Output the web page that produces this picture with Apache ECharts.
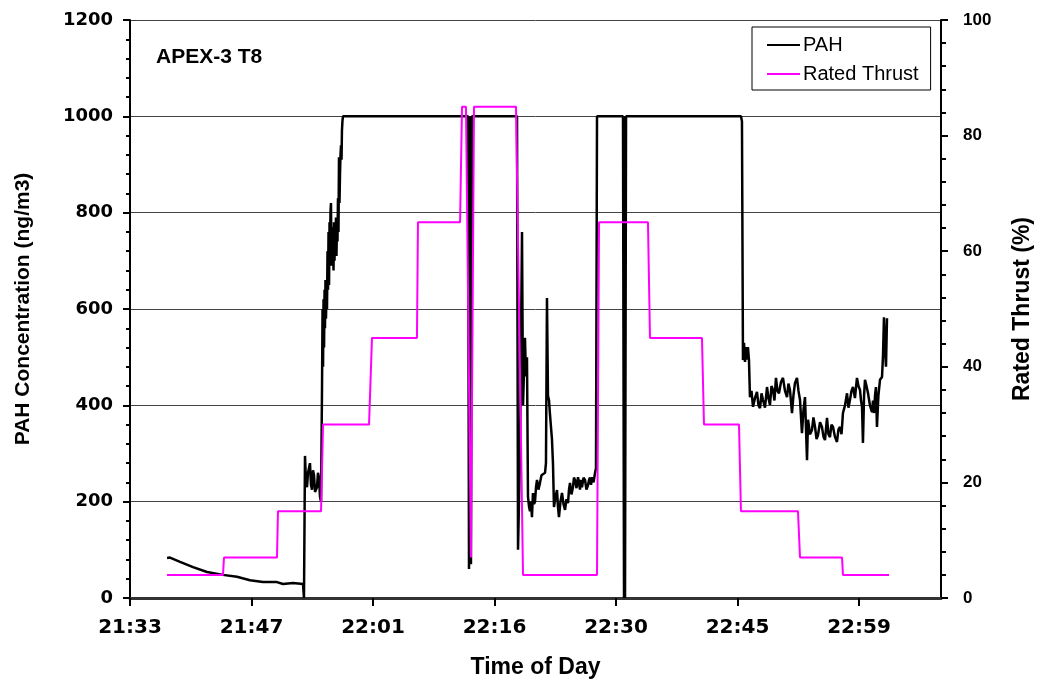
<!DOCTYPE html>
<html>
<head>
<meta charset="utf-8">
<script src="https://cdn.jsdelivr.net/npm/echarts@6/dist/echarts.min.js"></script>
<style>html,body{margin:0;padding:0;background:#fff}#c{width:1040px;height:690px}</style>
</head>
<body>
<div id="c"></div>
<script>
// Minutes elapsed since the axis origin (21:33:07)
var axisStartMinutes = 1293.12;
var tickStep = 14.4;
var tickLabels = ['21:33', '21:47', '22:01', '22:16', '22:30', '22:45', '22:59'];
var leftTicks = [0, 200, 400, 600, 800, 1000, 1200];
var rightTicks = [0, 20, 40, 60, 80, 100];

var pahTime = [4.39, 4.74, 5.93, 7.47, 9.13, 11.02, 12.68, 14.22, 15.76, 17.42, 18.13, 19.32, 20.50, 20.62, 20.74, 20.86, 20.98, 21.10, 21.33, 21.45, 21.57, 21.69, 21.81, 21.93, 22.16, 22.28, 22.40, 22.52, 22.64,
  22.76, 22.82, 22.88, 22.94, 23.00, 23.06, 23.11, 23.17, 23.23, 23.29, 23.35, 23.41, 23.47, 23.53, 23.59, 23.65, 23.70, 23.76, 23.82, 23.88, 23.94, 24.00, 24.06, 24.12, 24.18, 24.24, 24.30, 24.36, 24.41, 24.47, 24.53, 24.59, 24.65, 24.71, 24.77, 24.83, 24.89, 24.95, 25.01, 25.07, 25.12, 25.18, 25.24,
  40.06, 40.18, 40.30, 40.41, 40.53,
  45.87, 45.99, 46.22, 46.46, 46.58, 46.81, 46.93, 47.05, 47.17, 47.29, 47.41, 47.52, 47.64, 47.76, 47.88, 48.00, 48.12, 48.24, 48.41, 48.59, 48.77, 48.95, 49.19, 49.30, 49.42, 49.54, 49.66, 49.78, 49.90, 50.01, 50.13, 50.25, 50.43, 50.61, 50.72, 50.84, 51.02, 51.20, 51.38, 51.56, 51.73, 51.91, 52.03, 52.15, 52.32, 52.50, 52.62, 52.74, 52.92, 53.10, 53.21, 53.33, 53.45, 53.57, 53.75, 53.93, 54.10, 54.28, 54.40, 54.52, 54.64, 54.76, 54.94, 55.11, 55.23, 55.35,
  58.43, 58.55, 58.61, 58.67, 58.79,
  72.41, 72.53, 72.65, 72.77, 72.89, 73.00, 73.12, 73.24, 73.36, 73.48, 73.66, 73.84, 74.07, 74.31, 74.49, 74.67, 74.85, 75.02, 75.26, 75.50, 75.67, 75.85, 76.03, 76.21, 76.38, 76.56, 76.74, 76.92, 77.15, 77.39, 77.63, 77.87, 78.04, 78.22, 78.46, 78.63, 78.81, 79.05, 79.23, 79.41, 79.64, 79.82, 80.00, 80.24, 80.36, 80.60, 80.83, 81.00, 81.19, 81.37, 81.54, 81.78, 82.01, 82.19, 82.37, 82.61, 82.78, 82.96, 83.14, 83.32, 83.55, 83.79, 83.97, 84.15, 84.33, 84.50, 84.74, 84.98, 85.15, 85.33, 85.51, 85.69, 85.92, 86.16, 86.34, 86.52, 86.64, 86.76, 86.87, 87.00, 87.11, 87.29, 87.47, 87.70, 87.94, 88.06, 88.18, 88.30, 88.41, 88.53, 88.70, 88.89, 89.13, 89.24, 89.36, 89.48, 89.60, 89.72];
var pahValue = [83, 84, 75, 64, 54, 48, 44, 37, 33, 33, 29, 31, 29, 0, 295, 240, 230, 260, 280, 235, 225, 265, 255, 220, 230, 260, 250, 210, 200,
  440, 600, 480, 620, 520, 640, 560, 660, 580, 650, 600, 720, 640, 760, 650, 780, 700, 800, 820, 690, 770, 700, 760, 680, 780, 700, 770, 720, 790, 710, 780, 740, 830, 760, 915, 820, 880, 920, 940, 910, 970, 990, 1000,
  1000, 60, 1000, 70, 1000,
  1000, 100, 300, 760, 400, 540, 460, 500, 210, 190, 180, 200, 168, 218, 195, 200, 230, 245, 225, 239, 255, 251, 260, 280, 623, 420, 411, 380, 376, 330, 280, 189, 210, 224, 190, 168, 200, 218, 195, 183, 205, 197, 225, 239, 215, 230, 250, 245, 228, 251, 240, 225, 245, 230, 250, 245, 225, 234, 245, 250, 235, 251, 240, 259, 270, 1000,
  1000, 0, 1000, 0, 1000,
  1000, 990, 494, 530, 490, 521, 495, 521, 494, 417, 430, 397, 415, 428, 400, 394, 425, 411, 395, 438, 415, 401, 440, 432, 410, 457, 430, 425, 448, 457, 430, 417, 445, 432, 384, 420, 446, 457, 430, 411, 342, 390, 417, 286, 370, 340, 349, 375, 355, 330, 338, 365, 355, 335, 328, 374, 340, 334, 360, 355, 335, 324, 350, 355, 340, 384, 400, 425, 395, 411, 430, 438, 415, 457, 440, 432, 410, 397, 322, 420, 453, 440, 425, 400, 386, 410, 384, 420, 438, 355, 420, 453, 459, 500, 583, 520, 480, 581];

var thrustTime = [4.39, 11.02, 11.14, 17.42, 17.54, 22.64, 22.88, 28.33, 28.68, 34.01, 34.13, 39.12, 39.35, 39.82, 40.41, 40.77, 45.75, 46.58, 55.35, 55.59, 61.39, 61.63, 67.79, 68.03, 72.18, 72.41, 79.17, 79.41, 84.39, 84.50, 89.96];
var thrustValue = [4, 4, 7, 7, 15, 15, 30, 30, 45, 45, 65, 65, 85, 85, 7, 85, 85, 4, 4, 65, 65, 45, 45, 30, 30, 15, 15, 7, 7, 4, 4];

function zip(a, b) { var r = []; for (var i = 0; i < a.length; i++) r.push([a[i], b[i]]); return r; }

var chart = echarts.init(document.getElementById('c'), null, {renderer: 'canvas'});
var option = {
  animation: false,
  backgroundColor: '#fff',
  title: {
    text: 'APEX-3 T8', left: 151, top: 42,
    textStyle: {fontFamily: 'Liberation Sans', fontWeight: 'bold', fontSize: 21, color: '#000'}
  },
  legend: {
    orient: 'vertical', left: 752, top: 27,
    padding: [8, 12, 6, 15], itemGap: 9, itemWidth: 33, itemHeight: 2,
    icon: 'rect', borderColor: '#000', borderWidth: 1, borderRadius: 0, backgroundColor: '#fff',
    textStyle: {fontFamily: 'Liberation Sans', fontSize: 20, color: '#000', padding: [0, 0, 0, -2]},
    data: ['PAH', 'Rated Thrust']
  },
  grid: {left: 130, right: 99, top: 20, bottom: 92, containLabel: false, outerBoundsMode: 'none'},
  xAxis: {
    type: 'value', min: 0, max: 96.12, interval: tickStep,
    name: 'Time of Day', nameLocation: 'middle', nameGap: 58,
    nameTextStyle: {fontFamily: 'Liberation Sans', fontWeight: 'bold', fontSize: 23, color: '#000'},
    axisLine: {lineStyle: {color: '#333', width: 3}},
    axisTick: {show: true, length: 8, lineStyle: {color: '#000', width: 2}},
    axisLabel: {margin: 20, showMaxLabel: false, fontFamily: 'DejaVu Sans', fontWeight: 'bold', fontSize: 20, color: '#000',
      formatter: function (v) {
        var k = Math.round(v / tickStep);
        return Math.abs(v - k * tickStep) < 0.01 && tickLabels[k] ? tickLabels[k] : '';
      }},
    splitLine: {show: false}
  },
  yAxis: [{
    type: 'value', min: leftTicks[0], max: leftTicks[leftTicks.length - 1], interval: 200,
    name: 'PAH Concentration (ng/m3)', nameLocation: 'middle', nameGap: 96, nameRotate: 90,
    nameTextStyle: {fontFamily: 'Liberation Sans', fontWeight: 'bold', fontSize: 21, color: '#000'},
    axisLine: {show: true, lineStyle: {color: '#000', width: 2}},
    axisTick: {show: true, length: 7, lineStyle: {color: '#000', width: 2}},
    minorTick: {show: true, splitNumber: 5, length: 4, lineStyle: {color: '#000', width: 2}},
    axisLabel: {margin: 17, fontFamily: 'DejaVu Sans', fontWeight: 'bold', fontSize: 18, color: '#000',
      formatter: function (v) { return String(v); }},
    splitLine: {show: true, lineStyle: {color: '#444', width: 1}}
  }, {
    type: 'value', min: rightTicks[0], max: rightTicks[rightTicks.length - 1], interval: 20, position: 'right',
    name: 'Rated Thrust (%)', nameLocation: 'middle', nameGap: 70, nameRotate: 90,
    nameTextStyle: {fontFamily: 'Liberation Sans', fontWeight: 'bold', fontSize: 23, color: '#000'},
    axisLine: {show: true, lineStyle: {color: '#000', width: 2}},
    axisTick: {show: true, length: 7, lineStyle: {color: '#000', width: 2}},
    minorTick: {show: true, splitNumber: 5, length: 5, lineStyle: {color: '#000', width: 2}},
    axisLabel: {margin: 22, fontFamily: 'Liberation Sans', fontWeight: 'bold', fontSize: 17, color: '#000',
      formatter: function (v) { return String(v); }},
    splitLine: {show: false}
  }],
  series: [{
    name: 'PAH', type: 'line', yAxisIndex: 0, showSymbol: false, symbol: 'none',
    lineStyle: {color: '#000', width: 2.5}, itemStyle: {color: '#000'},
    data: zip(pahTime, pahValue), z: 2
  }, {
    name: 'Rated Thrust', type: 'line', yAxisIndex: 1, showSymbol: false, symbol: 'none',
    lineStyle: {color: '#ff00ff', width: 2}, itemStyle: {color: '#ff00ff'},
    data: zip(thrustTime, thrustValue), z: 3
  }]
};
chart.setOption(option);
</script>
</body>
</html>
